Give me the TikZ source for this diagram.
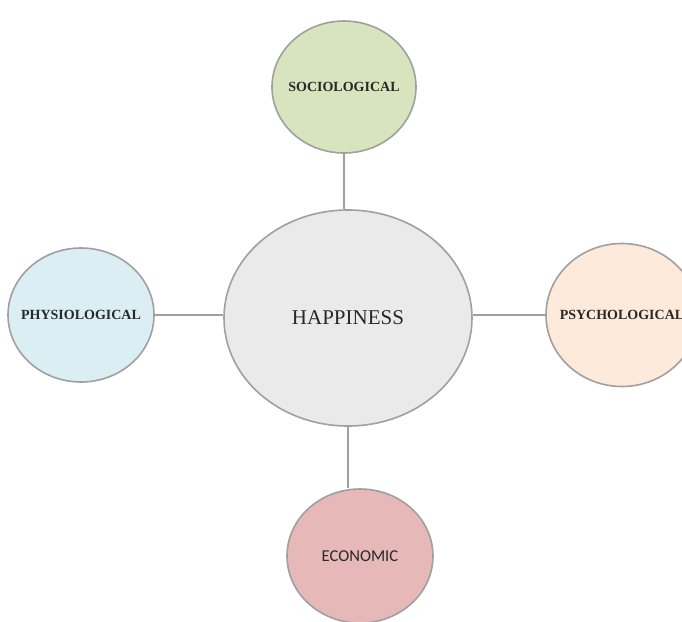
\documentclass[tikz,border=0pt]{standalone}
\usepackage{fontspec}
\setmainfont{Liberation Serif}
\newfontfamily\ecofont{Carlito}
\usetikzlibrary{shapes.geometric}
\definecolor{socio}{RGB}{215,228,189}
\definecolor{physio}{RGB}{219,238,244}
\definecolor{psycho}{RGB}{253,234,218}
\definecolor{econ}{RGB}{230,185,184}
\definecolor{happy}{RGB}{234,234,234}
\definecolor{rim}{RGB}{160,160,160}
\definecolor{ink}{RGB}{40,40,40}

\begin{document}
\begin{tikzpicture}[x=0.5pt, y=-0.5pt,
  blob/.style={ellipse, draw=rim, line width=0.8pt, inner sep=0pt},
  lbl/.style={text=ink, inner sep=0pt, font=\bfseries\fontsize{7}{8}\selectfont},
  link/.style={draw=rim, line width=0.6pt}]
\useasboundingbox (0,0) rectangle (682,622);
\fill[white] (0,0) rectangle (682,622);

\node[blob, fill=happy, minimum width=124pt, minimum height=108pt,
  label={[text=ink, inner sep=0pt, font=\fontsize{10.5}{12}\selectfont]center:HAPPINESS}] (hap) at (348,318) {};
\node[blob, fill=socio, minimum width=72pt, minimum height=66pt, label={[lbl]center:SOCIOLOGICAL}] (soc) at (344,87) {};
\node[blob, fill=physio, minimum width=73pt, minimum height=67pt, label={[lbl]center:PHYSIOLOGICAL}] (phy) at (81,315) {};
\node[blob, fill=psycho, minimum width=76pt, minimum height=71.5pt, label={[lbl]center:PSYCHOLOGICAL}] (psy) at (622,315) {};
\node[blob, fill=econ, minimum width=73pt, minimum height=67pt,
  label={[text=ink, inner sep=0pt, font=\ecofont\fontsize{8.3}{10}\selectfont]center:ECONOMIC}] (eco) at (360,556) {};

\draw[link] (soc.south) -- (soc.south |- hap.north);
\draw[link] (phy.east) -- (phy.east -| hap.west);
\draw[link] (psy.west) -- (psy.west -| hap.east);
\draw[link] (hap.south) -- (hap.south |- eco.north);

\end{tikzpicture}
\end{document}
